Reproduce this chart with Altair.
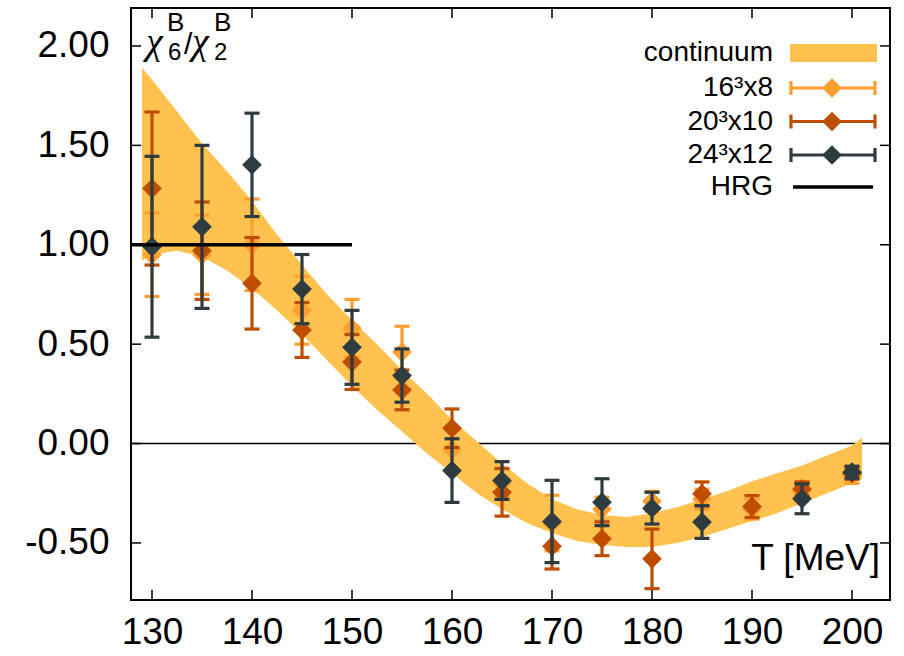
import altair as alt
import pandas as pd

FONT = "Liberation Sans"
SYMFONT = "Liberation Serif"

# ---- data ----
T16 = [130, 135, 140, 145, 150, 155, 160, 165, 170, 175, 180, 185, 190, 195, 200]
V16 = [0.95, 0.95, 1.00, 0.67, 0.58, 0.46, -0.03, -0.20, -0.40, -0.33, -0.29, -0.28, -0.33, -0.24, -0.16]
E16 = [0.21, 0.20, 0.23, 0.17, 0.145, 0.13, 0.10, 0.07, 0.14, 0.06, 0.05, 0.05, 0.05, 0.04, 0.04]

T20 = [130, 135, 140, 145, 150, 155, 160, 165, 170, 175, 180, 185, 190, 195, 200]
V20 = [1.283, 0.97, 0.806, 0.571, 0.41, 0.27, 0.077, -0.245, -0.516, -0.479, -0.58, -0.253, -0.317, -0.228, -0.15]
E20 = [0.385, 0.245, 0.23, 0.138, 0.138, 0.10, 0.097, 0.12, 0.115, 0.085, 0.15, 0.06, 0.055, 0.035, 0.03]

T24 = [130, 135, 140, 145, 150, 155, 160, 165, 170, 175, 180, 185, 195, 200]
V24 = [0.99, 1.09, 1.402, 0.777, 0.484, 0.342, -0.136, -0.186, -0.392, -0.295, -0.325, -0.395, -0.278, -0.144]
E24 = [0.455, 0.41, 0.26, 0.174, 0.186, 0.134, 0.16, 0.095, 0.207, 0.118, 0.08, 0.082, 0.075, 0.03]

BAND_T = [129, 130, 132.5, 135, 137.5, 140, 142.5, 145, 147.5, 150, 152.5, 155, 157.5, 160,
          162.5, 165, 167.5, 170, 172.5, 175, 177.5, 180, 182.5, 185, 187.5, 190, 192.5,
          195, 197.5, 200, 201]
BAND_HI = [1.89, 1.83, 1.67, 1.51, 1.37, 1.22, 1.05, 0.90, 0.75, 0.62, 0.50, 0.37, 0.25, 0.12,
           0.01, -0.10, -0.20, -0.28, -0.33, -0.36, -0.37, -0.35, -0.32, -0.28, -0.24, -0.19,
           -0.15, -0.11, -0.06, -0.01, 0.03]
BAND_LO = [0.92, 0.95, 0.97, 0.94, 0.87, 0.78, 0.67, 0.55, 0.42, 0.29, 0.17, 0.06, -0.05, -0.15,
           -0.25, -0.33, -0.40, -0.45, -0.49, -0.51, -0.52, -0.52, -0.50, -0.47, -0.43, -0.39,
           -0.35, -0.30, -0.25, -0.20, -0.18]

HRG_VALUE = 1.0
HRG_END = 150

X_TICKS = [130, 140, 150, 160, 170, 180, 190, 200]
Y_TICKS = [-0.5, 0.0, 0.5, 1.0, 1.5, 2.0]

SERIES = [
    ("16³x8", "#ff9f2f", T16, V16, E16),
    ("20³x10", "#bf4d00", T20, V20, E20),
    ("24³x12", "#2e3c40", T24, V24, E24),
]
BAND_LABEL = "continuum"
BAND_COLOR = "#ffc24e"
HRG_LABEL = "HRG"

# ---- layout ----
W, H = 759, 592
X_DOMAIN = [127.9, 203.8]
XS = alt.Scale(domain=X_DOMAIN, nice=False, zero=False)
YS = alt.Scale(domain=[-0.787, 2.191], nice=False, zero=False)
XAX = alt.Axis(values=X_TICKS, ticks=False, domain=False, grid=False, title=None,
               labelFont=FONT, labelFontSize=37, labelColor="black", labelPadding=14,
               format="d")
YAX = alt.Axis(values=Y_TICKS, ticks=False, domain=False, grid=False, title=None,
               labelFont=FONT, labelFontSize=37, labelColor="black", labelPadding=22,
               labelExpr="replace(format(datum.value, '.2f'), '\u2212', '-')")


def X(f):
    return alt.X(f, type="quantitative", scale=XS, axis=XAX)


def Y(f):
    return alt.Y(f, type="quantitative", scale=YS, axis=YAX)


layers = []

# zero line
zero_df = pd.DataFrame({"y": [0.0]})
layers.append(alt.Chart(zero_df).mark_rule(color="black", strokeWidth=1.5).encode(y=Y("y")))

# continuum band
band_df = pd.DataFrame({"T": BAND_T, "lo": BAND_LO, "hi": BAND_HI})
layers.append(alt.Chart(band_df).mark_area(color=BAND_COLOR, opacity=1).encode(
    x=X("T"), y=Y("hi"), y2=alt.Y2("lo")))

# lattice data
for label, color, T, V, E in SERIES:
    df = pd.DataFrame({"T": T, "v": V,
                       "lo": [v - e for v, e in zip(V, E)],
                       "hi": [v + e for v, e in zip(V, E)]})
    base = alt.Chart(df)
    layers.append(base.mark_rule(color=color, strokeWidth=3.2).encode(
        x=X("T"), y=Y("lo"), y2=alt.Y2("hi")))
    layers.append(base.mark_tick(color=color, orient="horizontal", size=15, thickness=3.2,
                                 opacity=1).encode(x=X("T"), y=Y("hi")))
    layers.append(base.mark_tick(color=color, orient="horizontal", size=15, thickness=3.2,
                                 opacity=1).encode(x=X("T"), y=Y("lo")))
    layers.append(base.mark_point(shape="diamond", filled=True, size=390, color=color,
                                  opacity=1, strokeWidth=0).encode(x=X("T"), y=Y("v")))

# HRG line (from the left frame to HRG_END)
hrg_df = pd.DataFrame({"y": [HRG_VALUE], "x0": [X_DOMAIN[0]], "x2": [HRG_END]})
layers.append(alt.Chart(hrg_df).mark_rule(color="black", strokeWidth=3.5).encode(
    x=X("x0"), x2=alt.X2("x2"), y=Y("y")))

# inward ticks (mirrored)
xt = pd.DataFrame({"t": X_TICKS})
yt = pd.DataFrame({"t": Y_TICKS})
layers.append(alt.Chart(xt).mark_rule(color="black", strokeWidth=1.5).encode(
    x=X("t"), y=alt.value(H), y2=alt.value(H - 10)))
layers.append(alt.Chart(xt).mark_rule(color="black", strokeWidth=1.5).encode(
    x=X("t"), y=alt.value(0), y2=alt.value(10)))
layers.append(alt.Chart(yt).mark_rule(color="black", strokeWidth=1.5).encode(
    y=Y("t"), x=alt.value(0), x2=alt.value(10)))
layers.append(alt.Chart(yt).mark_rule(color="black", strokeWidth=1.5).encode(
    y=Y("t"), x=alt.value(W), x2=alt.value(W - 10)))


def text(s, x, y, size, align="left", baseline="alphabetic", font=FONT, style="normal"):
    return alt.Chart(pd.DataFrame({"s": [s]})).mark_text(
        font=font, fontSize=size, align=align, baseline=baseline, color="black",
        fontStyle=style).encode(
        x=alt.value(x), y=alt.value(y), text="s:N")


# x label inside the plot
layers.append(text("T [MeV]", 749, 562, 37, align="right"))

# y label inside the plot: chi_6^B / chi_2^B
layers.append(text("χ", 15, 46, 38, font=SYMFONT, style="italic"))
layers.append(text("6", 37, 52, 24))
layers.append(text("B", 36, 23, 26))
layers.append(text("/", 53, 46, 30))
layers.append(text("χ", 61, 46, 38, font=SYMFONT, style="italic"))
layers.append(text("2", 83, 52, 24))
layers.append(text("B", 83, 23, 26))

# legend
LEG_X = 642
LEG_Y = [45, 80, 113.5, 147, 179]
LEG_FS = 28
one = pd.DataFrame({"a": [0]})
layers.append(text(BAND_LABEL, LEG_X, LEG_Y[0], LEG_FS, align="right", baseline="middle"))
layers.append(alt.Chart(one).mark_rect(color=BAND_COLOR).encode(
    x=alt.value(659), x2=alt.value(746), y=alt.value(LEG_Y[0] - 9), y2=alt.value(LEG_Y[0] + 9)))
for (label, color, *_), ly in zip(SERIES, LEG_Y[1:4]):
    layers.append(text(label, LEG_X, ly, LEG_FS, align="right", baseline="middle"))
    layers.append(alt.Chart(one).mark_rule(color=color, strokeWidth=3.2).encode(
        x=alt.value(660), x2=alt.value(744), y=alt.value(ly)))
    for cx in (660, 744):
        layers.append(alt.Chart(one).mark_rule(color=color, strokeWidth=3.2).encode(
            x=alt.value(cx), y=alt.value(ly - 7), y2=alt.value(ly + 7)))
    layers.append(alt.Chart(one).mark_point(shape="diamond", filled=True, size=390, color=color,
                                            opacity=1, strokeWidth=0).encode(
        x=alt.value(701), y=alt.value(ly)))
layers.append(text(HRG_LABEL, LEG_X, LEG_Y[4], LEG_FS, align="right", baseline="middle"))
layers.append(alt.Chart(one).mark_rule(color="black", strokeWidth=3.5).encode(
    x=alt.value(662), x2=alt.value(742), y=alt.value(LEG_Y[4])))

chart = alt.layer(*layers).properties(
    width=W, height=H,
    autosize=alt.AutoSizeParams(type="none"),
    padding={"left": 131, "top": 8, "right": 14, "bottom": 56},
    background="white",
).configure_view(stroke="black", strokeWidth=2)

chart.save("out.html", embed_options={"renderer": "svg", "actions": False})
